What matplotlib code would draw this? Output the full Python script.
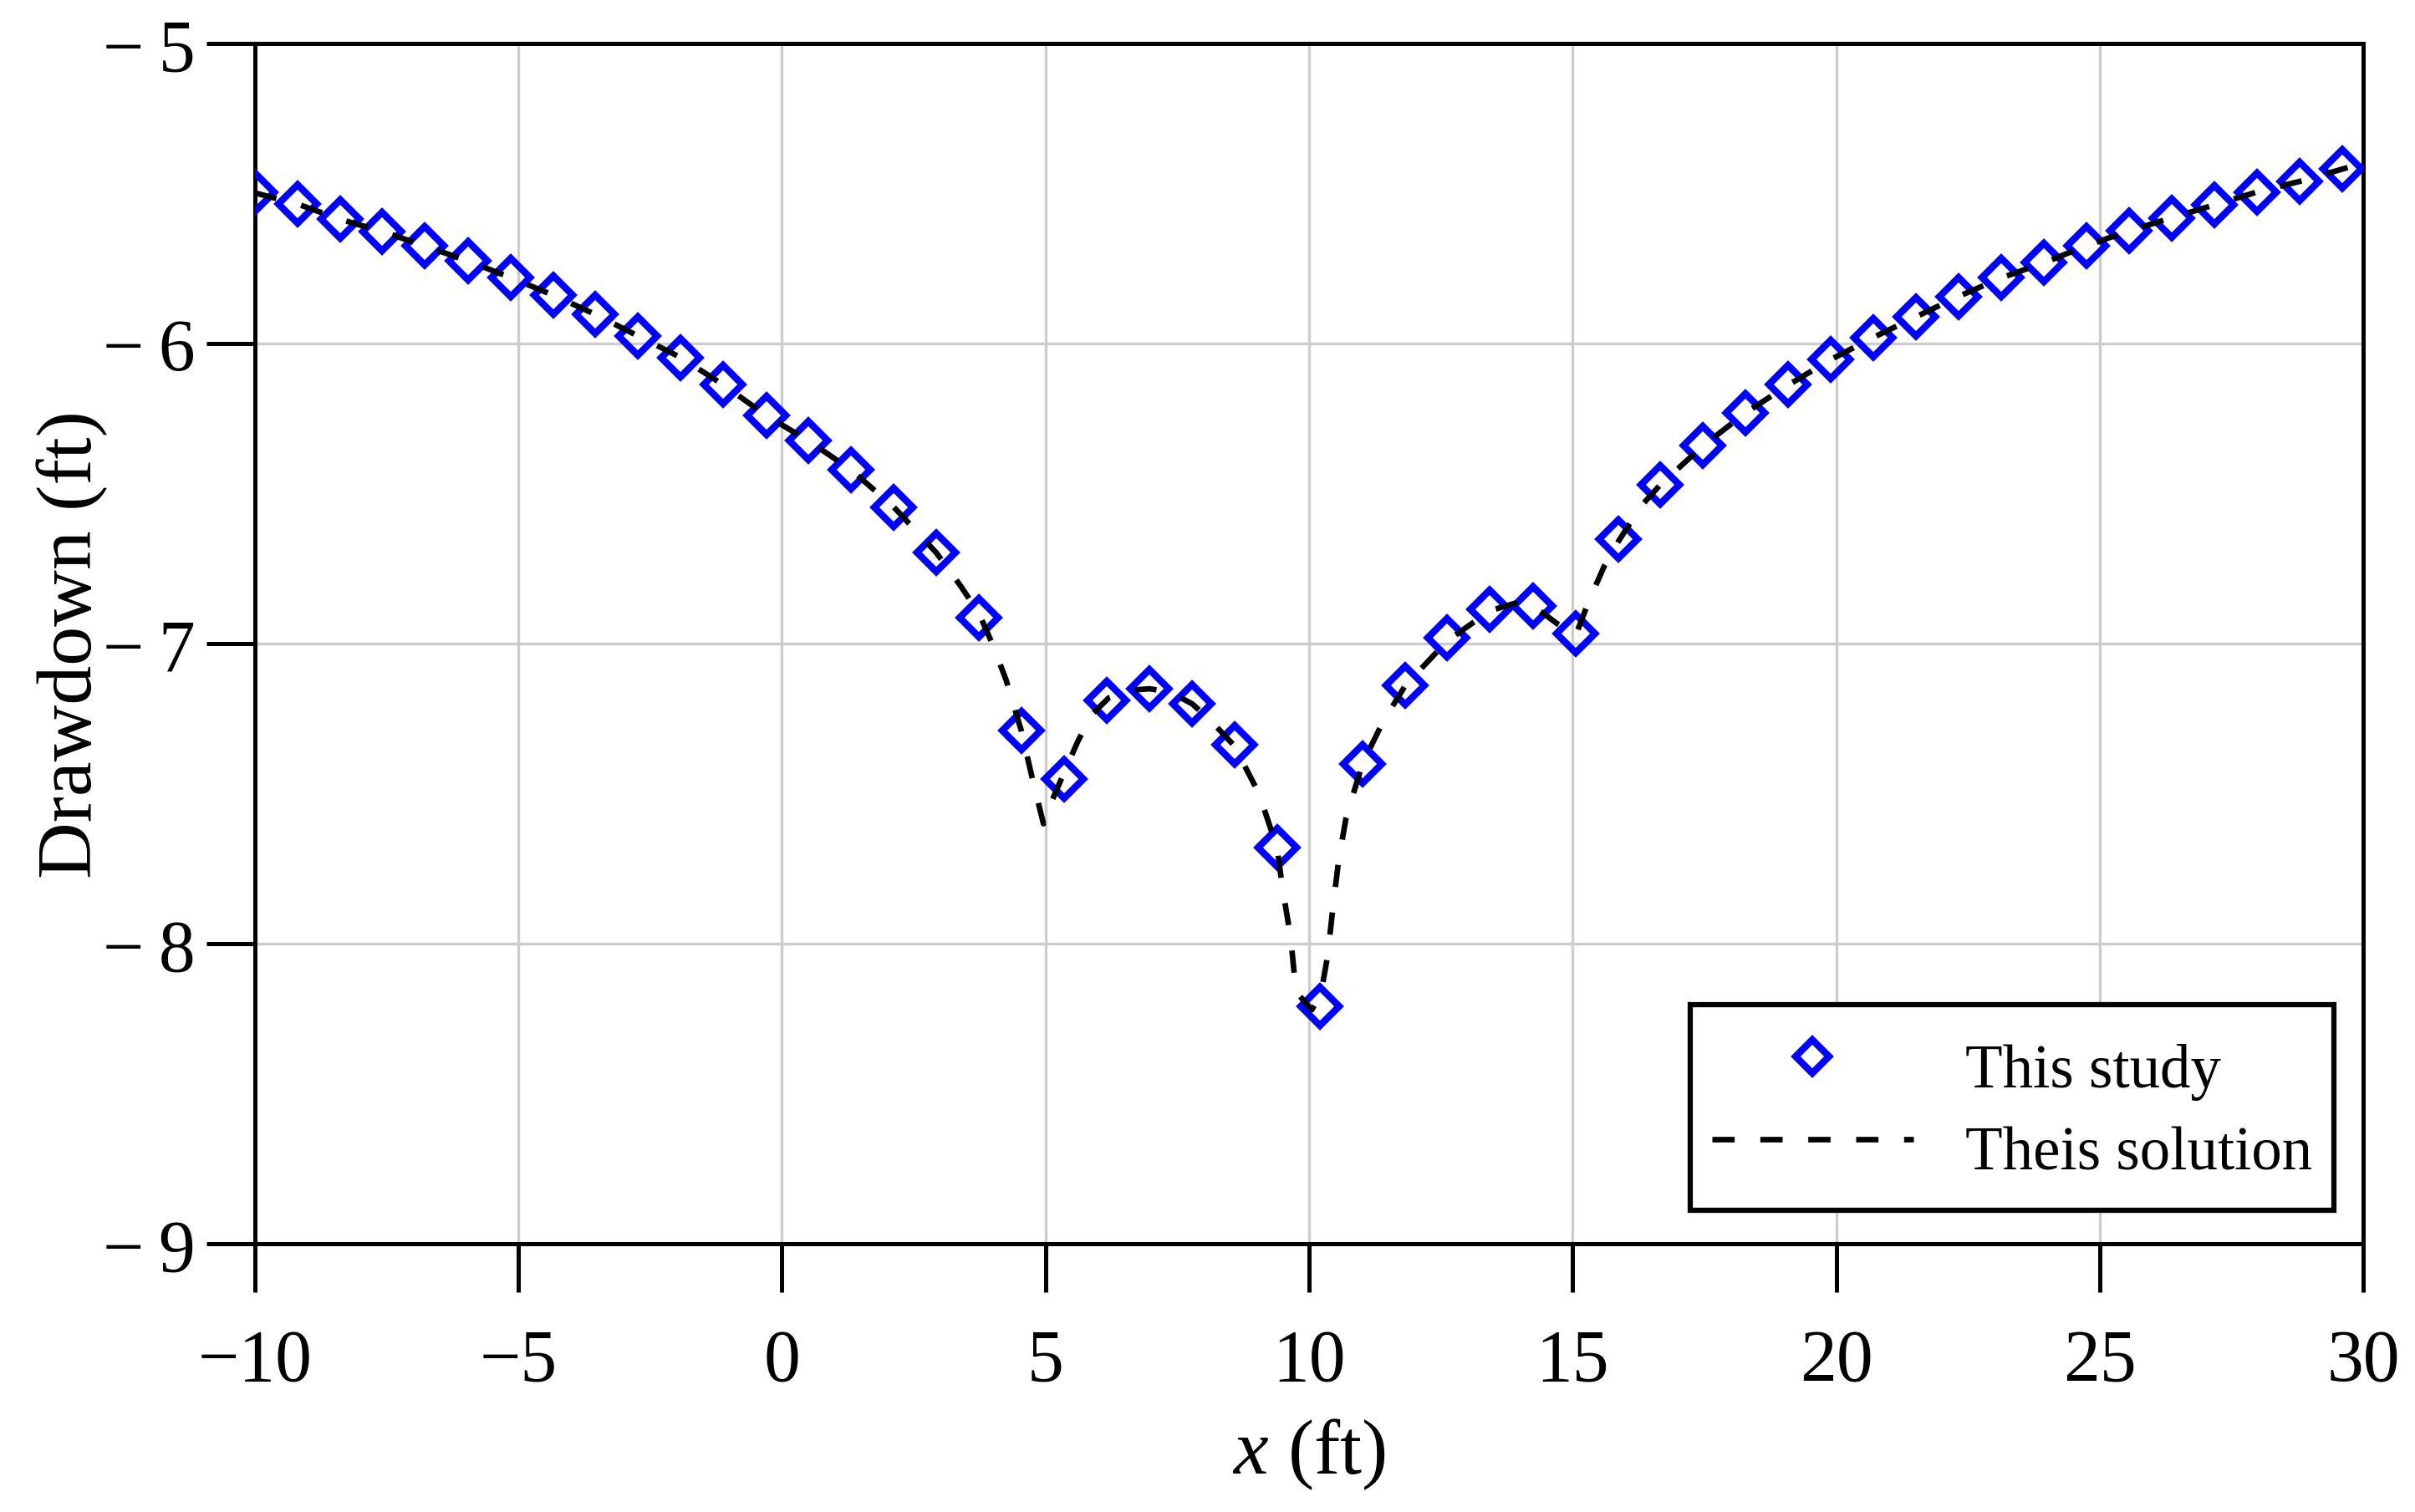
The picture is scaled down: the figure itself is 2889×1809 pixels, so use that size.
import numpy as np
import matplotlib
matplotlib.use("Agg")
import matplotlib.pyplot as plt
from matplotlib.ticker import FuncFormatter

plt.rcParams["font.family"] = ["Liberation Serif", "DejaVu Serif"]
plt.rcParams["mathtext.fontset"] = "custom"
plt.rcParams["mathtext.rm"] = "Liberation Serif"
plt.rcParams["mathtext.it"] = "Liberation Serif:italic"

# ── data ─────────────────────────────────────────────────────────────────────
study_x = [-10.00, -9.19, -8.38, -7.58, -6.77, -5.96, -5.15, -4.34, -3.54, -2.73,
           -1.92, -1.11, -0.30, 0.50, 1.31, 2.12, 2.93, 3.74, 4.54, 5.35,
           6.16, 6.97, 7.78, 8.58, 9.39, 10.20, 11.01, 11.82, 12.62, 13.43,
           14.24, 15.05, 15.86, 16.66, 17.47, 18.28, 19.09, 19.90, 20.70, 21.51,
           22.32, 23.13, 23.94, 24.74, 25.55, 26.36, 27.17, 27.98, 28.78, 29.59]
study_s = [-5.496, -5.534, -5.585, -5.626, -5.674, -5.724, -5.779, -5.838, -5.902, -5.974,
           -6.046, -6.137, -6.239, -6.323, -6.420, -6.544, -6.697, -6.912, -7.290, -7.450,
           -7.190, -7.150, -7.200, -7.337, -7.680, -8.209, -7.400, -7.140, -6.980, -6.884,
           -6.873, -6.966, -6.652, -6.470, -6.340, -6.230, -6.137, -6.052, -5.979, -5.910,
           -5.842, -5.780, -5.730, -5.673, -5.624, -5.580, -5.537, -5.494, -5.459, -5.418]

theis_x = [-10.00, -9.19, -8.38, -7.58, -6.77, -5.96, -5.15, -4.34, -3.54, -2.73,
           -1.92, -1.11, -0.30, 0.50, 1.31, 2.12, 2.93, 3.40, 3.74, 3.99,
           4.25, 4.54, 4.75, 4.96, 5.08, 5.35, 5.60, 5.85, 6.20, 6.60,
           6.97, 7.35, 7.78, 8.10, 8.58, 9.05, 9.39, 9.50, 9.65, 9.75,
           10.05, 10.22, 10.35, 10.45, 10.56, 10.70, 11.01, 11.40, 11.82, 12.62,
           13.43, 13.90, 14.24, 14.72, 15.06, 15.30, 15.60, 15.86, 16.30, 16.66,
           17.47, 18.28, 19.09, 19.90, 20.70, 21.51, 22.32, 23.13, 23.94, 24.74,
           25.55, 26.36, 27.17, 27.98, 28.78, 29.59, 30.00]
theis_s = [-5.497, -5.534, -5.585, -5.626, -5.674, -5.724, -5.779, -5.838, -5.902, -5.974,
           -6.046, -6.137, -6.239, -6.323, -6.420, -6.544, -6.697, -6.810, -6.900, -7.000,
           -7.120, -7.290, -7.450, -7.600, -7.540, -7.430, -7.330, -7.240, -7.180, -7.155,
           -7.150, -7.160, -7.200, -7.250, -7.340, -7.500, -7.680, -7.820, -7.980, -8.160,
           -8.220, -8.170, -8.040, -7.880, -7.720, -7.580, -7.400, -7.260, -7.140, -6.990,
           -6.890, -6.865, -6.872, -6.935, -6.970, -6.860, -6.740, -6.660, -6.540, -6.470,
           -6.340, -6.230, -6.137, -6.052, -5.979, -5.910, -5.842, -5.780, -5.730, -5.673,
           -5.624, -5.580, -5.537, -5.494, -5.459, -5.418, -5.397]

XTICKS = [-10, -5, 0, 5, 10, 15, 20, 25, 30]
YTICKS = [-9, -8, -7, -6, -5]

# ── plot ─────────────────────────────────────────────────────────────────────
fig = plt.figure(figsize=(9.63, 6.0333), dpi=300)
ax = fig.add_axes([0.1055, 0.1773, 0.9787 - 0.1055, 0.9705 - 0.1773])

ax.plot(study_x, study_s, ls="none", marker="D", ms=7.9, mfc="none", mec="#0000ff",
        mew=2.0, label="This study", zorder=3)
ax.plot(theis_x, theis_s, color="black", lw=1.6, ls=(0, (4.0, 4.6)),
        label="Theis solution", zorder=4)

ax.set_xlim(-10, 30)
ax.set_ylim(-9, -5)
ax.set_xticks(XTICKS)
ax.set_yticks(YTICKS)
ax.yaxis.set_major_formatter(FuncFormatter(lambda v, p: f"\u2212\u2009{abs(int(round(v)))}"))
ax.grid(True, color="#cccccc", lw=0.8)
ax.set_axisbelow(True)
for sp in ax.spines.values():
    sp.set_linewidth(1.2)
ax.tick_params(direction="out", length=14, width=1.2, labelsize=21)
ax.tick_params(axis="x", pad=10)
ax.tick_params(axis="y", pad=3)

ax.set_xlabel(r"$x$ (ft)", fontsize=22.5, labelpad=6)
ax.set_ylabel("Drawdown (ft)", fontsize=22.5, labelpad=-1.5)

leg = ax.legend(loc="lower right", bbox_to_anchor=(0.986, 0.028), borderaxespad=0,
                fontsize=17.5, numpoints=1, handlelength=3.3, handletextpad=0.85,
                handleheight=1.62, borderpad=0.36, labelspacing=0.05, fancybox=False,
                framealpha=1, edgecolor="black", markerscale=0.85)
leg.get_frame().set_linewidth(1.5)

fig.savefig("out.png", dpi=300)
